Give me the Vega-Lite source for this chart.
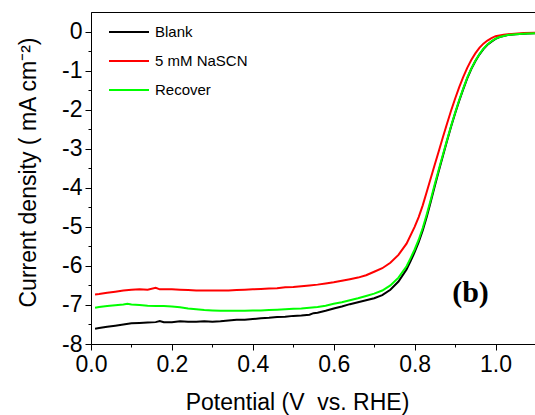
{
"$schema": "https://vega.github.io/schema/vega-lite/v6.json",
"width": 445, "height": 332,
"autosize": {"type": "none"},
"padding": {"left": 91, "top": 12, "right": 0, "bottom": 71},
"view": {"stroke": "#000000", "strokeWidth": 1, "fill": null},
"config": {"font": "Liberation Sans",
  "axis": {"grid": false, "tickColor": "black", "labelColor": "black", "titleColor": "black", "labelFont": "Liberation Sans", "titleFont": "Liberation Sans", "titleFontWeight": "normal", "labelFontSize": 23, "titleFontSize": 23, "labelOverlap": false, "labelFlush": false, "tickWidth": 1}},
"data": {"values": [
{"s":"Blank","x":0.01,"y":-7.61},{"s":"Blank","x":0.02,"y":-7.59},{"s":"Blank","x":0.04,"y":-7.56},{"s":"Blank","x":0.06,"y":-7.53},{"s":"Blank","x":0.08,"y":-7.50},{"s":"Blank","x":0.10,"y":-7.47},{"s":"Blank","x":0.12,"y":-7.46},{"s":"Blank","x":0.14,"y":-7.45},{"s":"Blank","x":0.16,"y":-7.44},{"s":"Blank","x":0.17,"y":-7.41},{"s":"Blank","x":0.18,"y":-7.44},{"s":"Blank","x":0.20,"y":-7.44},{"s":"Blank","x":0.22,"y":-7.42},{"s":"Blank","x":0.24,"y":-7.43},{"s":"Blank","x":0.26,"y":-7.43},{"s":"Blank","x":0.28,"y":-7.42},{"s":"Blank","x":0.30,"y":-7.43},{"s":"Blank","x":0.32,"y":-7.42},{"s":"Blank","x":0.34,"y":-7.40},{"s":"Blank","x":0.36,"y":-7.38},{"s":"Blank","x":0.38,"y":-7.38},{"s":"Blank","x":0.40,"y":-7.36},{"s":"Blank","x":0.42,"y":-7.34},{"s":"Blank","x":0.44,"y":-7.33},{"s":"Blank","x":0.46,"y":-7.31},{"s":"Blank","x":0.48,"y":-7.30},{"s":"Blank","x":0.50,"y":-7.28},{"s":"Blank","x":0.52,"y":-7.27},{"s":"Blank","x":0.54,"y":-7.25},{"s":"Blank","x":0.55,"y":-7.21},{"s":"Blank","x":0.56,"y":-7.20},{"s":"Blank","x":0.58,"y":-7.15},{"s":"Blank","x":0.60,"y":-7.09},{"s":"Blank","x":0.62,"y":-7.04},{"s":"Blank","x":0.64,"y":-6.98},{"s":"Blank","x":0.66,"y":-6.93},{"s":"Blank","x":0.68,"y":-6.88},{"s":"Blank","x":0.70,"y":-6.83},{"s":"Blank","x":0.72,"y":-6.75},{"s":"Blank","x":0.74,"y":-6.61},{"s":"Blank","x":0.76,"y":-6.40},{"s":"Blank","x":0.78,"y":-6.09},{"s":"Blank","x":0.79,"y":-5.88},{"s":"Blank","x":0.80,"y":-5.65},{"s":"Blank","x":0.81,"y":-5.39},{"s":"Blank","x":0.82,"y":-5.09},{"s":"Blank","x":0.83,"y":-4.74},{"s":"Blank","x":0.84,"y":-4.35},{"s":"Blank","x":0.85,"y":-3.95},{"s":"Blank","x":0.86,"y":-3.56},{"s":"Blank","x":0.87,"y":-3.18},{"s":"Blank","x":0.88,"y":-2.80},{"s":"Blank","x":0.89,"y":-2.44},{"s":"Blank","x":0.90,"y":-2.10},{"s":"Blank","x":0.91,"y":-1.78},{"s":"Blank","x":0.92,"y":-1.48},{"s":"Blank","x":0.93,"y":-1.20},{"s":"Blank","x":0.94,"y":-0.96},{"s":"Blank","x":0.95,"y":-0.76},{"s":"Blank","x":0.96,"y":-0.59},{"s":"Blank","x":0.97,"y":-0.45},{"s":"Blank","x":0.98,"y":-0.34},{"s":"Blank","x":0.99,"y":-0.26},{"s":"Blank","x":1.00,"y":-0.19},{"s":"Blank","x":1.01,"y":-0.14},{"s":"Blank","x":1.03,"y":-0.09},{"s":"Blank","x":1.05,"y":-0.07},{"s":"Blank","x":1.08,"y":-0.05},{"s":"Blank","x":1.10,"y":-0.04},
{"s":"5 mM NaSCN","x":0.01,"y":-6.73},{"s":"5 mM NaSCN","x":0.02,"y":-6.72},{"s":"5 mM NaSCN","x":0.04,"y":-6.69},{"s":"5 mM NaSCN","x":0.06,"y":-6.66},{"s":"5 mM NaSCN","x":0.08,"y":-6.63},{"s":"5 mM NaSCN","x":0.10,"y":-6.61},{"s":"5 mM NaSCN","x":0.12,"y":-6.60},{"s":"5 mM NaSCN","x":0.14,"y":-6.61},{"s":"5 mM NaSCN","x":0.16,"y":-6.56},{"s":"5 mM NaSCN","x":0.17,"y":-6.60},{"s":"5 mM NaSCN","x":0.18,"y":-6.60},{"s":"5 mM NaSCN","x":0.20,"y":-6.60},{"s":"5 mM NaSCN","x":0.22,"y":-6.61},{"s":"5 mM NaSCN","x":0.24,"y":-6.62},{"s":"5 mM NaSCN","x":0.26,"y":-6.63},{"s":"5 mM NaSCN","x":0.28,"y":-6.63},{"s":"5 mM NaSCN","x":0.30,"y":-6.63},{"s":"5 mM NaSCN","x":0.32,"y":-6.63},{"s":"5 mM NaSCN","x":0.34,"y":-6.63},{"s":"5 mM NaSCN","x":0.36,"y":-6.62},{"s":"5 mM NaSCN","x":0.38,"y":-6.61},{"s":"5 mM NaSCN","x":0.40,"y":-6.60},{"s":"5 mM NaSCN","x":0.42,"y":-6.59},{"s":"5 mM NaSCN","x":0.44,"y":-6.58},{"s":"5 mM NaSCN","x":0.46,"y":-6.57},{"s":"5 mM NaSCN","x":0.48,"y":-6.55},{"s":"5 mM NaSCN","x":0.50,"y":-6.54},{"s":"5 mM NaSCN","x":0.52,"y":-6.52},{"s":"5 mM NaSCN","x":0.54,"y":-6.50},{"s":"5 mM NaSCN","x":0.56,"y":-6.48},{"s":"5 mM NaSCN","x":0.58,"y":-6.45},{"s":"5 mM NaSCN","x":0.60,"y":-6.42},{"s":"5 mM NaSCN","x":0.62,"y":-6.38},{"s":"5 mM NaSCN","x":0.64,"y":-6.34},{"s":"5 mM NaSCN","x":0.66,"y":-6.30},{"s":"5 mM NaSCN","x":0.68,"y":-6.24},{"s":"5 mM NaSCN","x":0.70,"y":-6.15},{"s":"5 mM NaSCN","x":0.72,"y":-6.06},{"s":"5 mM NaSCN","x":0.74,"y":-5.92},{"s":"5 mM NaSCN","x":0.76,"y":-5.72},{"s":"5 mM NaSCN","x":0.78,"y":-5.43},{"s":"5 mM NaSCN","x":0.80,"y":-5.00},{"s":"5 mM NaSCN","x":0.81,"y":-4.75},{"s":"5 mM NaSCN","x":0.82,"y":-4.45},{"s":"5 mM NaSCN","x":0.83,"y":-4.10},{"s":"5 mM NaSCN","x":0.84,"y":-3.75},{"s":"5 mM NaSCN","x":0.85,"y":-3.40},{"s":"5 mM NaSCN","x":0.86,"y":-3.05},{"s":"5 mM NaSCN","x":0.87,"y":-2.70},{"s":"5 mM NaSCN","x":0.88,"y":-2.36},{"s":"5 mM NaSCN","x":0.89,"y":-2.03},{"s":"5 mM NaSCN","x":0.90,"y":-1.72},{"s":"5 mM NaSCN","x":0.91,"y":-1.43},{"s":"5 mM NaSCN","x":0.92,"y":-1.17},{"s":"5 mM NaSCN","x":0.93,"y":-0.93},{"s":"5 mM NaSCN","x":0.94,"y":-0.73},{"s":"5 mM NaSCN","x":0.95,"y":-0.56},{"s":"5 mM NaSCN","x":0.96,"y":-0.42},{"s":"5 mM NaSCN","x":0.97,"y":-0.31},{"s":"5 mM NaSCN","x":0.98,"y":-0.23},{"s":"5 mM NaSCN","x":0.99,"y":-0.17},{"s":"5 mM NaSCN","x":1.00,"y":-0.12},{"s":"5 mM NaSCN","x":1.02,"y":-0.08},{"s":"5 mM NaSCN","x":1.04,"y":-0.06},{"s":"5 mM NaSCN","x":1.07,"y":-0.04},{"s":"5 mM NaSCN","x":1.10,"y":-0.03},
{"s":"Recover","x":0.01,"y":-7.07},{"s":"Recover","x":0.02,"y":-7.05},{"s":"Recover","x":0.04,"y":-7.03},{"s":"Recover","x":0.06,"y":-7.01},{"s":"Recover","x":0.08,"y":-6.99},{"s":"Recover","x":0.09,"y":-6.97},{"s":"Recover","x":0.10,"y":-6.99},{"s":"Recover","x":0.12,"y":-7.00},{"s":"Recover","x":0.14,"y":-7.02},{"s":"Recover","x":0.16,"y":-7.03},{"s":"Recover","x":0.18,"y":-7.03},{"s":"Recover","x":0.20,"y":-7.04},{"s":"Recover","x":0.22,"y":-7.06},{"s":"Recover","x":0.24,"y":-7.09},{"s":"Recover","x":0.26,"y":-7.11},{"s":"Recover","x":0.28,"y":-7.13},{"s":"Recover","x":0.30,"y":-7.14},{"s":"Recover","x":0.32,"y":-7.15},{"s":"Recover","x":0.34,"y":-7.15},{"s":"Recover","x":0.36,"y":-7.15},{"s":"Recover","x":0.38,"y":-7.15},{"s":"Recover","x":0.40,"y":-7.14},{"s":"Recover","x":0.42,"y":-7.14},{"s":"Recover","x":0.44,"y":-7.13},{"s":"Recover","x":0.46,"y":-7.12},{"s":"Recover","x":0.48,"y":-7.11},{"s":"Recover","x":0.50,"y":-7.10},{"s":"Recover","x":0.52,"y":-7.09},{"s":"Recover","x":0.54,"y":-7.07},{"s":"Recover","x":0.56,"y":-7.05},{"s":"Recover","x":0.58,"y":-7.02},{"s":"Recover","x":0.60,"y":-6.97},{"s":"Recover","x":0.62,"y":-6.93},{"s":"Recover","x":0.64,"y":-6.88},{"s":"Recover","x":0.66,"y":-6.83},{"s":"Recover","x":0.68,"y":-6.77},{"s":"Recover","x":0.70,"y":-6.71},{"s":"Recover","x":0.72,"y":-6.63},{"s":"Recover","x":0.74,"y":-6.50},{"s":"Recover","x":0.76,"y":-6.30},{"s":"Recover","x":0.78,"y":-6.01},{"s":"Recover","x":0.79,"y":-5.80},{"s":"Recover","x":0.80,"y":-5.58},{"s":"Recover","x":0.81,"y":-5.33},{"s":"Recover","x":0.82,"y":-5.03},{"s":"Recover","x":0.83,"y":-4.68},{"s":"Recover","x":0.84,"y":-4.30},{"s":"Recover","x":0.85,"y":-3.90},{"s":"Recover","x":0.86,"y":-3.52},{"s":"Recover","x":0.87,"y":-3.15},{"s":"Recover","x":0.88,"y":-2.78},{"s":"Recover","x":0.89,"y":-2.42},{"s":"Recover","x":0.90,"y":-2.08},{"s":"Recover","x":0.91,"y":-1.76},{"s":"Recover","x":0.92,"y":-1.46},{"s":"Recover","x":0.93,"y":-1.18},{"s":"Recover","x":0.94,"y":-0.95},{"s":"Recover","x":0.95,"y":-0.75},{"s":"Recover","x":0.96,"y":-0.58},{"s":"Recover","x":0.97,"y":-0.44},{"s":"Recover","x":0.98,"y":-0.33},{"s":"Recover","x":0.99,"y":-0.25},{"s":"Recover","x":1.00,"y":-0.18},{"s":"Recover","x":1.01,"y":-0.14},{"s":"Recover","x":1.03,"y":-0.09},{"s":"Recover","x":1.05,"y":-0.07},{"s":"Recover","x":1.08,"y":-0.05},{"s":"Recover","x":1.10,"y":-0.04}
]},
"encoding": {
  "x": {"field": "x", "type": "quantitative", "scale": {"domain": [0, 1.1], "nice": false, "zero": false},
    "axis": {"values": [0,0.1,0.2,0.3,0.4,0.5,0.6,0.7,0.8,0.9,1.0],
      "domain": true, "domainColor": "#000000", "domainWidth": 1,
      "labelExpr": "abs(datum.value*5-round(datum.value*5))<0.001 ? format(datum.value,'.1f') : ''",
      "tickSize": {"condition": {"test": "abs(datum.value*5-round(datum.value*5))<0.001", "value": 6}, "value": 3},
      "labelPadding": 3,
      "title": "Potential (V\u00a0 vs. RHE)", "titleX": 206, "titleY": 65, "titleBaseline": "alphabetic", "titleAlign": "center"}},
  "y": {"field": "y", "type": "quantitative", "scale": {"domain": [-8, 0.5], "nice": false, "zero": false},
    "axis": {"values": [-8,-7.5,-7,-6.5,-6,-5.5,-5,-4.5,-4,-3.5,-3,-2.5,-2,-1.5,-1,-0.5,0],
      "domain": true, "domainColor": "#000000", "domainWidth": 1,
      "labelExpr": "abs(datum.value-round(datum.value))<0.001 ? ''+datum.value : ''",
      "tickSize": {"condition": {"test": "abs(datum.value-round(datum.value))<0.001", "value": 6}, "value": 3},
      "labelPadding": 3,
      "title": "Current density ( mA cm\u207b\u00b2)", "titleX": -56, "titleY": 160, "titleAngle": -90, "titleBaseline": "alphabetic", "titleAlign": "center"}},
  "color": {"field": "s", "type": "nominal",
    "scale": {"domain": ["Blank", "5 mM NaSCN", "Recover"], "range": ["#000000", "#ff0000", "#00ff00"]},
    "legend": {"orient": "none", "legendX": 17, "legendY": -1, "title": null, "symbolType": "stroke", "symbolSize": 1600, "symbolStrokeWidth": 2, "labelOffset": 5, "labelFontSize": 15, "labelFont": "Liberation Sans", "labelColor": "black", "rowPadding": -32, "padding": 0}}
},
"layer": [
  {"transform": [{"filter": "datum.s == 'Blank'"}], "mark": {"type": "line", "strokeWidth": 2}},
  {"transform": [{"filter": "datum.s == '5 mM NaSCN'"}], "mark": {"type": "line", "strokeWidth": 2}},
  {"transform": [{"filter": "datum.s == 'Recover'"}], "mark": {"type": "line", "strokeWidth": 2}},
  {"data": {"values": [{"label": "(b)", "x": 0.938, "y": -6.93}]},
   "mark": {"type": "text", "font": "Liberation Serif", "fontWeight": "bold", "fontSize": 30, "align": "center", "baseline": "alphabetic"},
   "encoding": {"text": {"field": "label"}, "color": {"value": "black"}}}
]
}
